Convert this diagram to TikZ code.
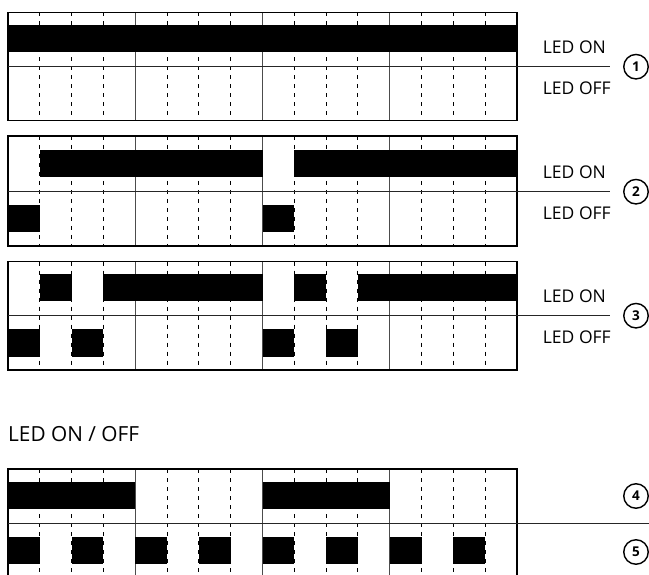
\documentclass[tikz,border=0pt]{standalone}
\usepackage{fontspec}
\setmainfont{Open Sans}
\newcommand\colW{31.8125}
\newcommand\ledgrid[3]{%
  \foreach \k in {1,2,3,5,6,7,9,10,11,13,14,15}
    \draw[minorline] ({8+\k*\colW},#1) -- ({8+\k*\colW},#3);
  \foreach \k in {4,8,12}
    \draw[majorline] ({8+\k*\colW},#1) -- ({8+\k*\colW},#3);
}
\newcommand\upbars[2]{\foreach \a/\b in {#2}
  \fill ({8+\a*\colW},{#1-41.5}) rectangle ({8+\b*\colW},{#1-14.3});}
\newcommand\lowbars[2]{\foreach \a/\b in {#2}
  \fill ({8+\a*\colW},{#1+13.5}) rectangle ({8+\b*\colW},{#1+40.8});}
\begin{document}
\begin{tikzpicture}[x=1pt,y=-1pt,
  frameline/.style={line width=1.2pt,black},
  midline/.style={line width=1.2pt,black!85},
  majorline/.style={line width=1.1pt,black!70},
  minorline/.style={line width=0.9pt,black,dash pattern=on 4pt off 5pt},
  lab/.style={anchor=base west,inner sep=0pt,font=\fontsize{17.5}{20}\selectfont},
  num/.style={circle,draw,line width=1.4pt,minimum size=24.5pt,inner sep=0pt,font=\bfseries\fontsize{13.5}{15}\selectfont}]
\useasboundingbox (0,0) rectangle (649,575);
\clip (0,0) rectangle (649,575);
% panel 1
\ledgrid{12.3}{66.7}{120.7}
\upbars{66.7}{0/16}
\draw[frameline] (8,12.3) rectangle (517,120.7);
\draw[midline] (8,66.7) -- (610,66.7);
\node[lab] (on1) at (542.7,53.3) {LED ON};
\node[lab] (off1) at (542.7,94.3) {LED OFF};
\node[num] (c1) at (636,66.7) {1};
% panel 2
\ledgrid{136}{191.7}{246}
\upbars{191.7}{1/8,9/16}
\lowbars{191.7}{0/1,8/9}
\draw[frameline] (8,136) rectangle (517,246);
\draw[midline] (8,191.7) -- (610,191.7);
\node[lab] (on2) at (542.7,178.3) {LED ON};
\node[lab] (off2) at (542.7,219.3) {LED OFF};
\node[num] (c2) at (636,191.7) {2};
% panel 3
\ledgrid{261.7}{315.7}{370}
\upbars{315.7}{1/2,3/8,9/10,11/16}
\lowbars{315.7}{0/1,2/3,8/9,10/11}
\draw[frameline] (8,261.7) rectangle (517,370);
\draw[midline] (8,315.7) -- (610,315.7);
\node[lab] (on3) at (542.7,302.3) {LED ON};
\node[lab] (off3) at (542.7,343.3) {LED OFF};
\node[num] (c3) at (636,315.7) {3};
% title
\node[anchor=base west,inner sep=0pt,font=\fontsize{20.8}{24}\selectfont] (title) at (8,441.7) {LED ON / OFF};
% panel 4/5
\ledgrid{469}{523.3}{600}
\upbars{523.3}{0/4,8/12}
\lowbars{523.3}{0/1,2/3,4/5,6/7,8/9,10/11,12/13,14/15}
\draw[frameline] (8,600) -- (8,469) -- (517,469) -- (517,600);
\draw[midline] (8,523.3) -- (660,523.3);
\node[num] (c4) at (636,496) {4};
\node[num] (c5) at (636,552) {5};
\end{tikzpicture}
\end{document}
